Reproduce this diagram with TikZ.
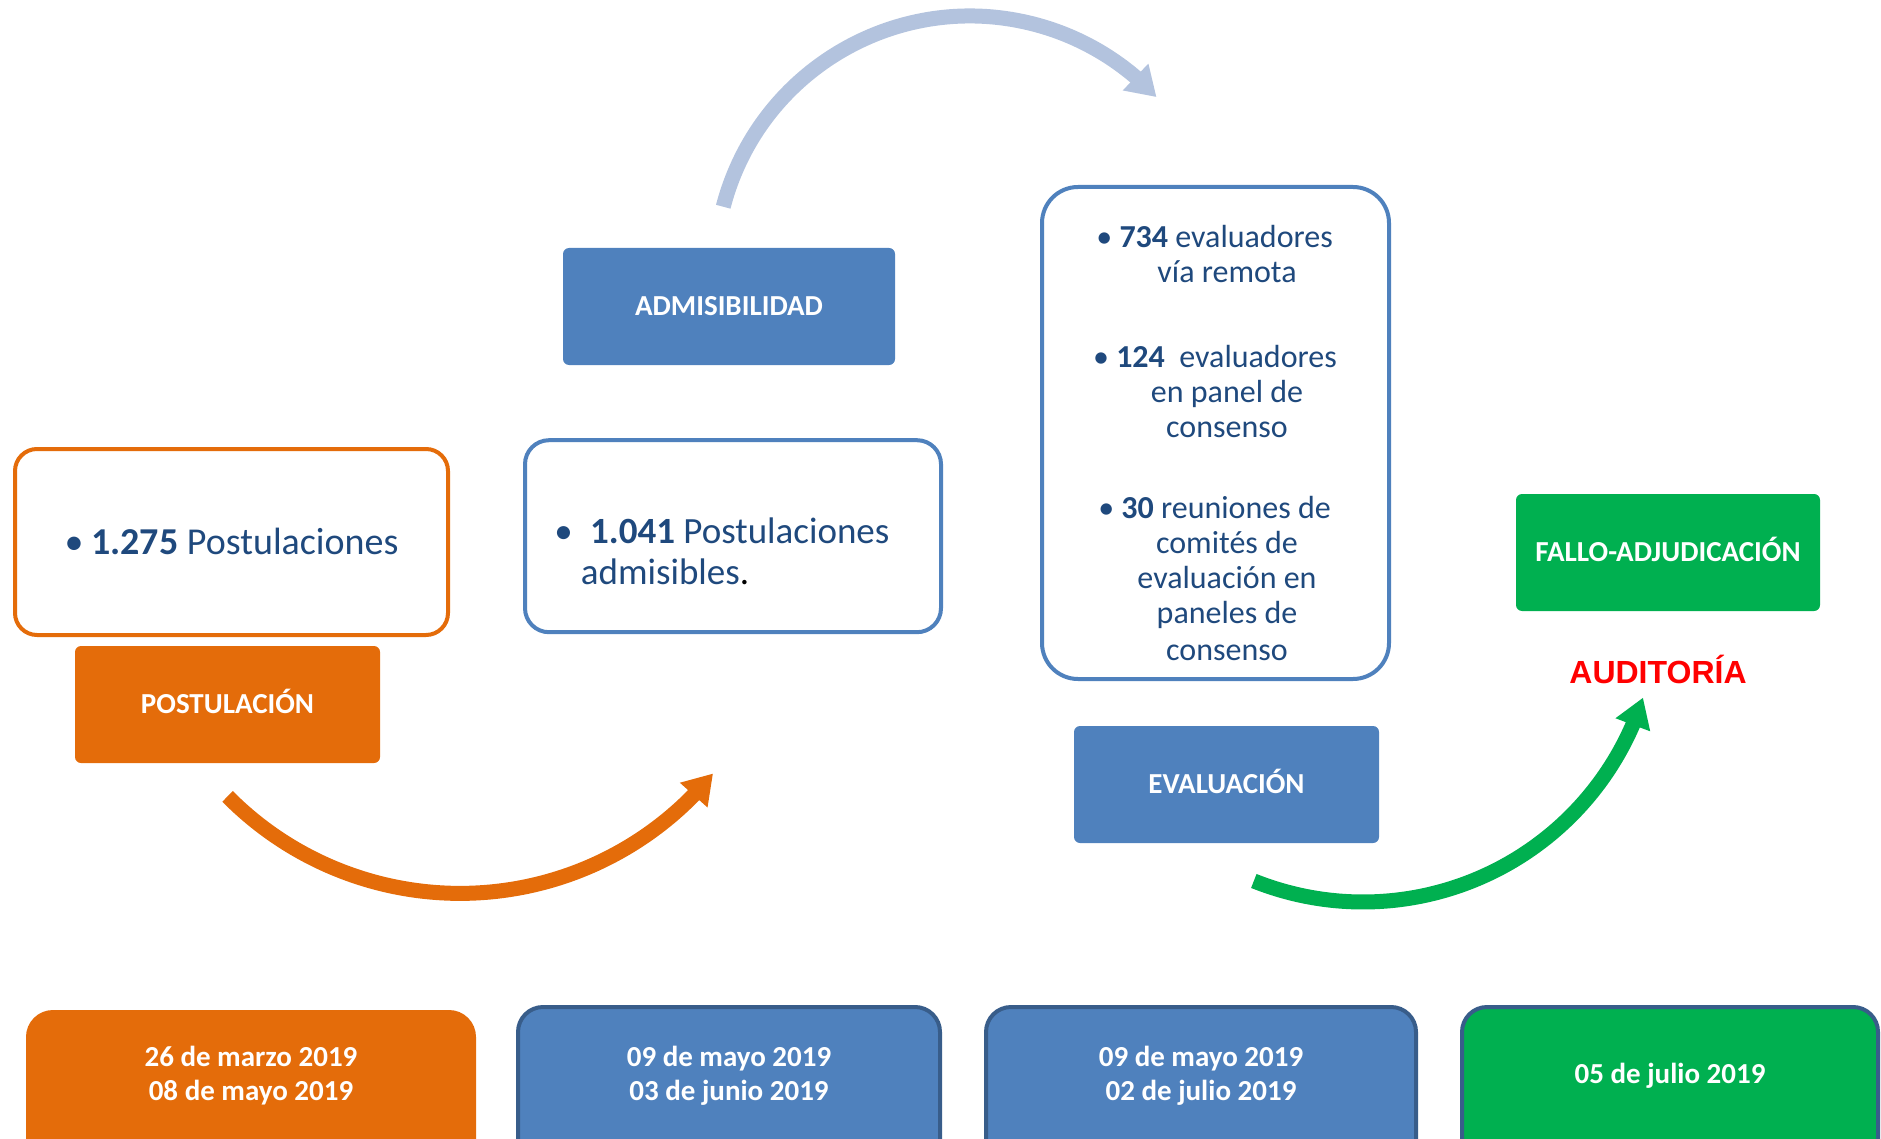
\documentclass[tikz,border=0pt]{standalone}
\usepackage{fontspec}
\setmainfont{Carlito}
\newfontfamily\arialfont{Liberation Sans}
\usetikzlibrary{arrows.meta,bending,calc}
\definecolor{navy}{HTML}{1F497D}
\definecolor{boxblue}{HTML}{4F81BD}
\definecolor{darkblue}{HTML}{385D8A}
\definecolor{orng}{HTML}{E46C0A}
\definecolor{grn}{HTML}{00B050}
\definecolor{lightarc}{HTML}{B3C3DE}
\definecolor{audred}{HTML}{FF0000}
\tikzset{
  labelbox/.style={rounded corners=6pt, inner sep=0pt, minimum width=305pt, minimum height=117pt,
    text=white, font=\fontsize{29}{35}\selectfont\bfseries, text height=18.7pt, text depth=0pt},
  outlinebox/.style={draw, line width=4pt, fill=white, inner sep=0pt},
  datebox/.style={rounded corners=25pt, line width=4pt, inner sep=0pt, anchor=north, minimum height=180pt},
  datetxt/.style={text=white, font=\fontsize{29}{35}\selectfont\bfseries, inner sep=0pt, anchor=base},
  bigtxt/.style={text=navy, font=\fontsize{37}{44}\selectfont, inner sep=0pt, anchor=base west},
  evtxt/.style={text=navy, font=\fontsize{32}{35}\selectfont, inner sep=0pt, anchor=base},
  arcarrow/.style={line width=15pt, -{Triangle[length=29pt,width=35pt]}},
}
\begin{document}
\begin{tikzpicture}[x=1pt,y=-1pt]
\useasboundingbox (0,0) rectangle (1881,1139);
\clip (0,0) rectangle (1881,1139);

% arc arrows
\coordinate (btail) at ($(970,271)+(-165.4:255)$);
\coordinate (otail) at ($(460,566.4)+(135.3:327)$);
\coordinate (gtail) at ($(1363,608)+(111.8:294)$);
\draw[arcarrow, lightarc] (btail) arc[start angle=-165.4, end angle=-43, radius=255];
\draw[arcarrow, orng] (otail) arc[start angle=135.3, end angle=39.3, radius=327];
\draw[arcarrow, grn] (gtail) arc[start angle=111.8, end angle=17.75, radius=294];

% label boxes
\node[labelbox, fill=boxblue, minimum width=332pt] (admis) at (729,306.5) {ADMISIBILIDAD};
\node[labelbox, fill=orng] (postul) at (227.5,704.5) {POSTULACIÓN};
\node[labelbox, fill=boxblue] (evalua) at (1226.5,784.5) {EVALUACIÓN};
\node[labelbox, fill=grn, minimum width=304pt] (fallo) at (1668,552.5) {FALLO-ADJUDICACIÓN};

% outline boxes
\node[outlinebox, draw=orng, rounded corners=22pt, minimum width=433pt, minimum height=186pt] (obox) at (231.5,542) {};
\node[outlinebox, draw=boxblue, rounded corners=24pt, minimum width=416pt, minimum height=192pt] (bbox) at (733,536.2) {};
\node[outlinebox, draw=boxblue, rounded corners=36pt, minimum width=347pt, minimum height=492pt] (ebox) at (1215.5,433) {};

% texts in outline boxes
\node[bigtxt, anchor=base, font=\fontsize{38}{44}\selectfont] (ob) at (74,554) {•};
\node[bigtxt, font=\fontsize{38}{44}\selectfont] (ot) at (91,554) {\textbf{1.275} Postulaciones};
\node[bigtxt, anchor=base] (bb) at (563.5,543) {•};
\node[bigtxt] (bt1) at (590,543.3) {\textbf{1.041} Postulaciones};
\node[bigtxt] (bt2) at (580.7,584) {admisibles{\color{black}.}};

\node[evtxt, anchor=base east] (e1) at (1333,248) {• \textbf{734} evaluadores};
\node[evtxt] (e2) at (1227,283) {vía remota};
\node[evtxt, anchor=base east] (e3) at (1337,367) {• \textbf{124}\ \ evaluadores};
\node[evtxt] (e4) at (1227,402) {en panel de};
\node[evtxt] (e5) at (1227,437) {consenso};
\node[evtxt, anchor=base east] (e6) at (1331,518) {• \textbf{30} reuniones de};
\node[evtxt] (e7) at (1227,553) {comités de};
\node[evtxt] (e8) at (1227,588) {evaluación en};
\node[evtxt] (e9) at (1227,623) {paneles de};
\node[evtxt] (e10) at (1227,660) {consenso};

% auditoria
\node[text=audred, font=\arialfont\bfseries\fontsize{32}{38}\selectfont, inner sep=0pt, anchor=base] (audit) at (1658,683) {AUDITORÍA};

% date boxes
\node[datebox, fill=orng, draw=orng, minimum width=446pt] (d1) at (251,1010) {};
\node[datebox, fill=boxblue, draw=darkblue, minimum width=422pt] (d2) at (729,1005) {};
\node[datebox, fill=boxblue, draw=darkblue, minimum width=430pt] (d3) at (1201,1005) {};
\node[datebox, fill=grn, draw=darkblue, minimum width=416pt] (d4) at (1670,1005) {};
\node[datetxt] (d1a) at (251,1066) {26 de marzo 2019};
\node[datetxt] (d1b) at (251,1100) {08 de mayo 2019};
\node[datetxt] (d2a) at (729,1066) {09 de mayo 2019};
\node[datetxt] (d2b) at (729,1100) {03 de junio 2019};
\node[datetxt] (d3a) at (1201,1066) {09 de mayo 2019};
\node[datetxt] (d3b) at (1201,1100) {02 de julio 2019};
\node[datetxt] (d4a) at (1670,1083) {05 de julio 2019};
\end{tikzpicture}
\end{document}
